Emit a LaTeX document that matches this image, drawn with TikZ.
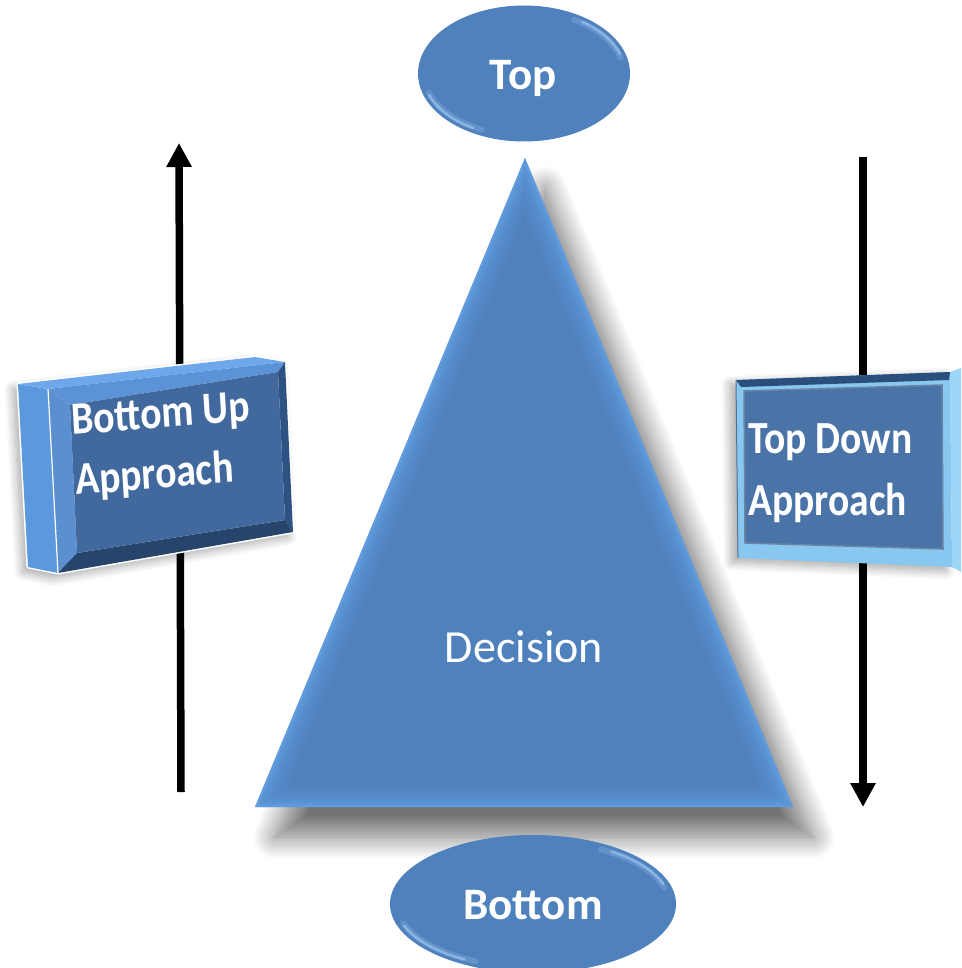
\documentclass[tikz,border=0pt]{standalone}
\usepackage{fontspec}
\setmainfont{Carlito}
\usetikzlibrary{arrows.meta,shapes.geometric,shadows.blur}
\definecolor{offblue}{HTML}{4F81BD}
\definecolor{bevlight}{HTML}{6AAAF0}
\definecolor{hilite}{HTML}{A3CBF5}
\definecolor{lbside}{HTML}{5B98DE}
\definecolor{lbtop}{HTML}{6FA8EA}
\definecolor{lbface}{HTML}{41699D}
\definecolor{lbbevT}{HTML}{5C93D6}
\definecolor{lbbevL}{HTML}{5A8FD0}
\definecolor{lbbevR}{HTML}{2E5282}
\definecolor{lbbevB}{HTML}{27446B}
\definecolor{rbframe}{HTML}{88C7EF}
\definecolor{rbside}{HTML}{9DD5F6}
\definecolor{rbdark}{HTML}{2A4F7C}
\definecolor{rbface}{HTML}{4A74A8}
\tikzset{
  ell/.style={ellipse, fill=offblue, inner sep=0pt},
  hl/.style={line cap=round, color=hilite},
  boldlbl/.style={text=white, font=\bfseries\fontsize{45}{54}\selectfont, inner sep=0pt},
  boxlbl/.style={text=white, font=\bfseries\fontsize{46}{56}\selectfont, inner sep=0pt, xscale=0.86, transform shape},
  declbl/.style={text=white, font=\fontsize{46}{56}\selectfont, inner sep=0pt},
  arr/.style={line width=7.5pt, -{Triangle[width=24pt,length=24pt]}, black},
}
\begin{document}
\begin{tikzpicture}[x=1pt,y=1pt]
\useasboundingbox (0,0) rectangle (961,-968);

% arrows (behind boxes)
\coordinate (la0) at (181,-792);
\coordinate (la1) at (179,-143);
\coordinate (ra0) at (863,-157);
\coordinate (ra1) at (863,-807);
\draw[arr] (la0) -- (la1);
\draw[arr] (ra0) -- (ra1);

% triangle
\coordinate (apex) at (525,-158);
\coordinate (bl) at (255,-807);
\coordinate (br) at (793,-807);
\fill[offblue, blur shadow={shadow xshift=20pt, shadow yshift=-30pt, shadow blur radius=22pt, shadow blur steps=16, shadow opacity=55}]
  (apex) -- (bl) -- (br) -- cycle;
\begin{scope}
  \clip (apex) -- (bl) -- (br) -- cycle;
  \foreach \w/\o in {44/0.08, 34/0.10, 26/0.12, 18/0.15, 11/0.2, 5/0.32}
    \draw[line width=\w pt, color=bevlight, opacity=\o, line join=miter] (apex) -- (bl) -- (br) -- cycle;
\end{scope}
\node[declbl, anchor=base] (dec) at (524,-662) {Decision};

% top ellipse
\node[ell, minimum width=212pt, minimum height=136pt] (top) at (524,-73.5) {};
\begin{scope}
  \clip (524,-73.5) ellipse [x radius=106, y radius=68];
  \draw[hl, line width=6pt, opacity=0.25] ([shift={(198:100 and 62)}]524,-73.5) arc[start angle=198, end angle=245, x radius=100, y radius=62];
  \draw[hl, line width=2.5pt, opacity=0.6] ([shift={(200:101 and 63)}]524,-73.5) arc[start angle=200, end angle=240, x radius=101, y radius=63];
  \draw[hl, line width=6pt, opacity=0.25] ([shift={(15:100 and 62)}]524,-73.5) arc[start angle=15, end angle=60, x radius=100, y radius=62];
  \draw[hl, line width=2.5pt, opacity=0.6] ([shift={(18:101 and 63)}]524,-73.5) arc[start angle=18, end angle=55, x radius=101, y radius=63];
\end{scope}
\node[boldlbl, anchor=base] (toplbl) at (523,-90) {Top};

% bottom ellipse
\node[ell, minimum width=286pt, minimum height=138pt] (bot) at (533,-904) {};
\begin{scope}
  \clip (533,-904) ellipse [x radius=143, y radius=69];
  \draw[hl, line width=6pt, opacity=0.25] ([shift={(198:136 and 63)}]533,-904) arc[start angle=198, end angle=245, x radius=136, y radius=63];
  \draw[hl, line width=2.5pt, opacity=0.6] ([shift={(200:137 and 64)}]533,-904) arc[start angle=200, end angle=240, x radius=137, y radius=64];
  \draw[hl, line width=6pt, opacity=0.25] ([shift={(15:136 and 63)}]533,-904) arc[start angle=15, end angle=60, x radius=136, y radius=63];
  \draw[hl, line width=2.5pt, opacity=0.6] ([shift={(18:137 and 64)}]533,-904) arc[start angle=18, end angle=55, x radius=137, y radius=64];
\end{scope}
\node[boldlbl, anchor=base] (botlbl) at (533,-919) {Bottom};

% left box (Bottom Up Approach)
\draw[white, line width=3pt, line join=round, fill=white,
      blur shadow={shadow xshift=-5pt, shadow yshift=-5pt, shadow blur radius=9pt, shadow blur steps=12, shadow opacity=35}]
  (18,-384) -- (255,-357) -- (285,-362) -- (293,-532) -- (58,-573) -- (28,-567) -- cycle;
\fill[lbside] (18,-384) -- (48,-389) -- (58,-573) -- (28,-567) -- cycle;
\fill[lbtop] (18,-384) -- (255,-357) -- (285,-362) -- (48,-389) -- cycle;
\fill[lbbevT] (48,-389) -- (285,-362) -- (278,-372) -- (70,-405) -- cycle;
\fill[lbbevL] (48,-389) -- (70,-405) -- (77,-553) -- (58,-573) -- cycle;
\fill[lbbevR] (285,-362) -- (293,-532) -- (285,-520) -- (278,-372) -- cycle;
\fill[lbbevB] (58,-573) -- (77,-553) -- (285,-520) -- (293,-532) -- cycle;
\fill[lbface] (70,-405) -- (278,-372) -- (285,-520) -- (77,-553) -- cycle;
\draw[white, line width=1.2pt] (48,-389) -- (58,-573);
\node[boxlbl, rotate=4, anchor=base west] (bu1) at (72,-435) {Bottom Up};
\node[boxlbl, rotate=4, anchor=base west] (bu2) at (76,-495) {Approach};

% right box (Top Down Approach)
\fill[rbframe, blur shadow={shadow xshift=-6pt, shadow yshift=-4pt, shadow blur radius=9pt, shadow blur steps=12, shadow opacity=35}]
  (736,-380) -- (950,-372) -- (952,-567) -- (738,-558) -- cycle;
\fill[rbside] (950,-372) -- (961,-368) -- (961,-572) -- (952,-567) -- cycle;
\fill[rbdark] (736,-380) -- (950,-372) -- (949,-380) -- (741,-387) -- cycle;
\draw[rbdark!80, line width=1pt] (736,-380) -- (738,-558);
\fill[rbface, draw=rbdark!70, line width=1.5pt] (744,-391) -- (942,-385) -- (943,-549) -- (745,-543) -- cycle;
\node[boxlbl, anchor=base west] (td1) at (748,-453) {Top Down};
\node[boxlbl, anchor=base west] (td2) at (748,-515) {Approach};
\end{tikzpicture}
\end{document}
